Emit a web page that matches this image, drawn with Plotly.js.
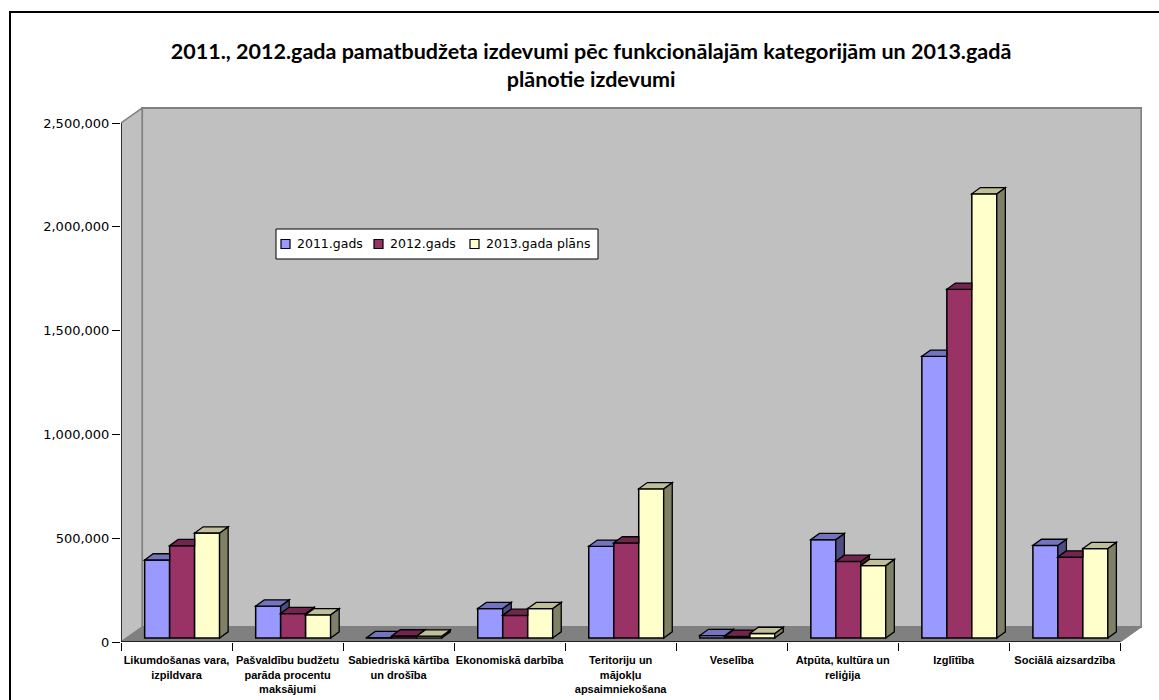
<!DOCTYPE html>
<html>
<head>
<meta charset="utf-8">
<script src="https://cdn.plot.ly/plotly-3.0.1.min.js"></script>
<style>
  html, body { margin: 0; padding: 0; background: #ffffff; }
  #chart { width: 1159px; height: 700px; }
</style>
</head>
<body>
<div id="chart"></div>
<script>
// ---------------- data ----------------
const categories = [
  "Likumdošanas vara,<br>izpildvara",
  "Pašvaldību budžetu<br>parāda procentu<br>maksājumi",
  "Sabiedriskā kārtība<br>un drošība",
  "Ekonomiskā darbība",
  "Teritoriju un<br>mājokļu<br>apsaimniekošana",
  "Veselība",
  "Atpūta, kultūra un<br>reliģija",
  "Izglītība",
  "Sociālā aizsardzība"
];
const seriesNames = ["2011.gads", "2012.gads", "2013.gada plāns"];
const values2011 = [376000, 154000, 2000, 142000, 442000, 12000, 474000, 1357000, 446000];
const values2012 = [445000, 118000, 10000, 109000, 458000, 8000, 369000, 1680000, 390000];
const values2013 = [506000, 112000, 9000, 142000, 719000, 22000, 349000, 2140000, 431000];
const yTickValues = [0, 500000, 1000000, 1500000, 2000000, 2500000];

// ---------------- style ----------------
const frontColors = ["#9999FF", "#993366", "#FFFFCC"];
const topColors   = ["#7373BF", "#73264D", "#BFBF99"];
const sideColors  = ["#4D4D80", "#4D1A33", "#808066"];

const WALL_DX = 0.19;     // depth of floor/walls in category units
const WALL_DY = 72000;    // depth of floor/walls in value units
const BAR_BASE = 19000;   // bars stand inside the floor
const BAR_DX = 0.077;     // bar depth
const BAR_DY = 30000;
const BAR_W = 0.225;
const BAR_OFF = [-0.287, -0.062, 0.163];
const Y_MAX_TICK = 2500000;

// plot area in pixels (for paper-coordinate decorations)
const PL = 121, PR = 1159 - 17, PT = 107, PB = 700 - 58;
const px2paperX = px => (px - PL) / (PR - PL);
const px2paperY = py => (PB - py) / (PB - PT);

const n = categories.length;
const xIdx = categories.map((_, i) => i);
const allSeries = [values2011, values2012, values2013];

const traces = allSeries.map((vals, s) => ({
  type: "bar",
  name: seriesNames[s],
  x: xIdx,
  y: vals,
  base: BAR_BASE,
  width: BAR_W,
  offset: BAR_OFF[s],
  marker: { color: frontColors[s], line: { color: "#000000", width: 1.5 } },
  showlegend: false,
  hoverinfo: "name+y"
}));

function P(pts) {
  return "M" + pts.map(p => p[0] + "," + p[1]).join(" L") + " Z";
}

const shapes = [];
const annotations = [];
// back wall
const xL = -0.5, xR = n - 0.5;
shapes.push({ type: "path", xref: "x", yref: "y", layer: "below",
  path: P([[xL + WALL_DX, WALL_DY], [xR + WALL_DX, WALL_DY], [xR + WALL_DX, Y_MAX_TICK + WALL_DY], [xL + WALL_DX, Y_MAX_TICK + WALL_DY]]),
  fillcolor: "#C0C0C0", line: { color: "#808080", width: 2 } });
// left side wall
shapes.push({ type: "path", xref: "x", yref: "y", layer: "below",
  path: P([[xL, 0], [xL + WALL_DX, WALL_DY], [xL + WALL_DX, Y_MAX_TICK + WALL_DY], [xL, Y_MAX_TICK]]),
  fillcolor: "#C0C0C0", line: { color: "#808080", width: 1.5 } });
// floor
shapes.push({ type: "path", xref: "x", yref: "y", layer: "below",
  path: P([[xL, 0], [xR, 0], [xR + WALL_DX, WALL_DY], [xL + WALL_DX, WALL_DY]]),
  fillcolor: "#808080", line: { color: "#808080", width: 1 } });

// 3D top and side faces of bars (only the visible parts)
for (let c = 0; c < n; c++) {
  for (let s = 0; s < 3; s++) {
    const v = allSeries[s][c];
    const x0 = c + BAR_OFF[s], x1 = x0 + BAR_W;
    const b = BAR_BASE, T = b + v;
    const hasNext = s < 2;
    const Tj = hasNext ? b + allSeries[s + 1][c] : -Infinity;
    if (!hasNext || Tj < T) {
      const lo = hasNext ? Math.max(b, Tj) : b;
      shapes.push({ type: "path", xref: "x", yref: "y", layer: "above",
        path: P([[x1, lo], [x1 + BAR_DX, lo + BAR_DY], [x1 + BAR_DX, T + BAR_DY], [x1, T]]),
        fillcolor: sideColors[s], line: { color: "#000000", width: 1.3 } });
    }
    const Tjc = hasNext ? Math.min(Math.max(Tj, T), T + BAR_DY) : T;
    const fr = (T + BAR_DY - Tjc) / BAR_DY;
    shapes.push({ type: "path", xref: "x", yref: "y", layer: "above",
      path: P([[x0, T], [x1, T], [x1, Tjc], [x1 + fr * BAR_DX, T + BAR_DY], [x0 + BAR_DX, T + BAR_DY]]),
      fillcolor: topColors[s], line: { color: "#000000", width: 1.3 } });
  }
}
// axis lines
shapes.push({ type: "line", xref: "x", yref: "y", layer: "above",
  x0: xL, x1: xL, y0: 0, y1: Y_MAX_TICK, line: { color: "#000000", width: 1.3 } });
shapes.push({ type: "line", xref: "x", yref: "y", layer: "above",
  x0: xL, x1: xR, y0: 0, y1: 0, line: { color: "#000000", width: 1.3 } });
// chart border
shapes.push({ type: "rect", xref: "paper", yref: "paper", layer: "above",
  x0: px2paperX(10), x1: 1.2, y0: -0.3, y1: px2paperY(12), line: { color: "#000000", width: 2 } });

// legend box (drawn like the original: compact key)
const LEG_BOX = { x0: 276, x1: 598, y0: 229, y1: 259 };
const LEG_SYM_X = [281, 374, 470];
const LEG_SYM = 9;
shapes.push({ type: "rect", xref: "paper", yref: "paper", layer: "above",
  x0: px2paperX(LEG_BOX.x0), x1: px2paperX(LEG_BOX.x1),
  y0: px2paperY(LEG_BOX.y1), y1: px2paperY(LEG_BOX.y0),
  fillcolor: "#ffffff", line: { color: "#000000", width: 1 } });
const legCy = (LEG_BOX.y0 + LEG_BOX.y1) / 2;
seriesNames.forEach((name, s) => {
  shapes.push({ type: "rect", xref: "paper", yref: "paper", layer: "above",
    x0: px2paperX(LEG_SYM_X[s]), x1: px2paperX(LEG_SYM_X[s] + LEG_SYM),
    y0: px2paperY(legCy + LEG_SYM / 2), y1: px2paperY(legCy - LEG_SYM / 2),
    fillcolor: frontColors[s], line: { color: "#000000", width: 1.2 } });
  annotations.push({ xref: "paper", yref: "paper",
    x: px2paperX(LEG_SYM_X[s] + LEG_SYM + 5), y: px2paperY(legCy),
    xanchor: "left", yanchor: "middle", showarrow: false, text: name,
    font: { family: "'DejaVu Sans', Verdana, sans-serif", size: 12.5, color: "#000000" } });
});

const layout = {
  width: 1159, height: 700,
  margin: { l: PL, r: 1159 - PR, t: PT, b: 700 - PB },
  paper_bgcolor: "#ffffff",
  plot_bgcolor: "#ffffff",
  barmode: "overlay",
  showlegend: false,
  title: {
    text: "2011., 2012.gada pamatbudžeta izdevumi pēc funkcionālajām kategorijām un 2013.gadā<br>plānotie izdevumi",
    font: { family: "Lato, 'Open Sans', sans-serif", size: 21.5, color: "#000000", weight: "bold" },
    x: 0.51, xanchor: "center", xref: "container",
    y: 0.916, yanchor: "top", yref: "container"
  },
  xaxis: {
    type: "linear",
    range: [-0.5, -0.5 + (PR - PL) / 111.03],
    tickmode: "array",
    tickvals: xIdx,
    ticktext: categories,
    ticks: "outside", ticklen: 8, tickcolor: "rgba(0,0,0,0)",
    minor: { tickmode: "linear", tick0: -0.5, dtick: 1, ticks: "outside", ticklen: 8, tickcolor: "#000000", tickwidth: 1, showgrid: false },
    showline: false, showgrid: false, zeroline: false,
    tickfont: { family: "'Liberation Sans', Arial, sans-serif", size: 11, color: "#000000", weight: "bold" },
    tickangle: 0,
    fixedrange: true
  },
  yaxis: {
    range: [0, (PB - PT) * (2500000 / 519)],
    tickmode: "array",
    tickvals: yTickValues,
    tickformat: ",d",
    ticks: "outside", ticklen: 8, tickcolor: "#000000", tickwidth: 1,
    showline: false, showgrid: false, zeroline: false,
    tickfont: { family: "'DejaVu Sans', Verdana, sans-serif", size: 13, color: "#000000" },
    fixedrange: true
  },
  shapes: shapes,
  annotations: annotations
};

Plotly.newPlot("chart", traces, layout, { displayModeBar: false, staticPlot: true });
</script>
</body>
</html>
